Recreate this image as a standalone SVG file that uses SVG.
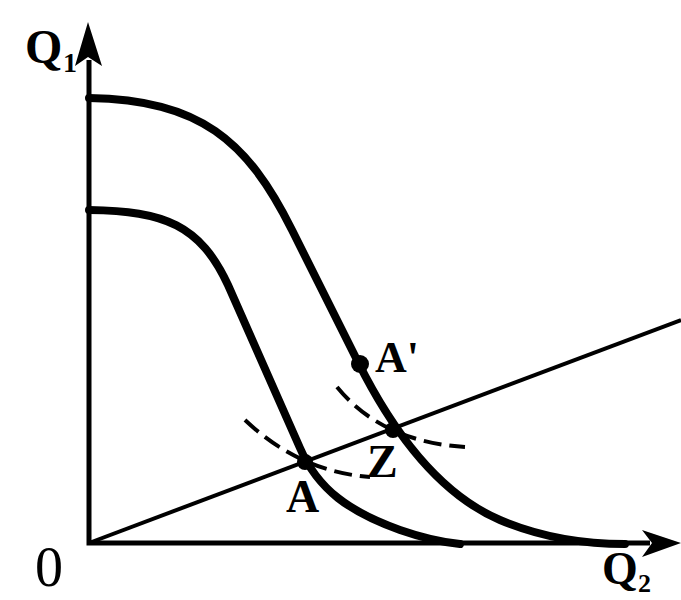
<svg xmlns="http://www.w3.org/2000/svg" width="681" height="600" viewBox="0 0 681 600">
<style>
.axis{stroke:#000;stroke-width:5;fill:none}
.curve{stroke:#000;stroke-width:8;fill:none;stroke-linejoin:round;stroke-linecap:round}
.ray{stroke:#000;stroke-width:4;fill:none}
.dash{stroke:#000;stroke-width:4;fill:none;stroke-dasharray:18 8}
.lbl{font-family:"Liberation Serif","Times New Roman",serif;font-weight:bold;fill:#000}
</style>
<rect width="681" height="600" fill="#fff"/>
<g id="axes">
<path class="axis" d="M89,60 L89,543 L650,543"/>
<path d="M88,22 L102,66 L88,57 L75,66 Z" fill="#000"/>
<path d="M681,543 L642,530 L652,543 L642,557 Z" fill="#000"/>
</g>
<g id="connectors">
<path class="ray" d="M89,543 L681,320"/>
<path class="curve" d="M89,98 C200,100 247,140 292,230 L358,362 C385,416 430,490 500,520 C540,537 585,544 625,544"/>
<path class="curve" d="M89,210 C165,211 200,225 228,285 L300,448 C318,490 350,512 400,530 C420,537 440,542 460,544"/>
<path class="dash" d="M245,420 Q300,472 370,477"/>
<path class="dash" d="M337,387 Q382,442 465,447"/>
</g>
<g id="pointA"><circle cx="305" cy="462" r="8"/><text class="lbl" x="286" y="512" font-size="46">A</text></g>
<g id="pointAprime"><circle cx="360" cy="364" r="9"/><text class="lbl" x="375" y="372" font-size="44">A'</text></g>
<g id="pointZ"><circle cx="393" cy="430" r="8"/><text class="lbl" x="367" y="477" font-size="46">Z</text></g>
<g id="labels">
<text class="lbl" x="25" y="63" font-size="48">Q</text>
<text class="lbl" x="63" y="72" font-size="28" font-weight="normal">1</text>
<text class="lbl" x="602" y="584" font-size="46">Q</text>
<text class="lbl" x="638" y="592" font-size="26" font-weight="normal">2</text>
<text x="35" y="586" font-size="56" font-family="Liberation Serif,serif">0</text>
</g>
</svg>
